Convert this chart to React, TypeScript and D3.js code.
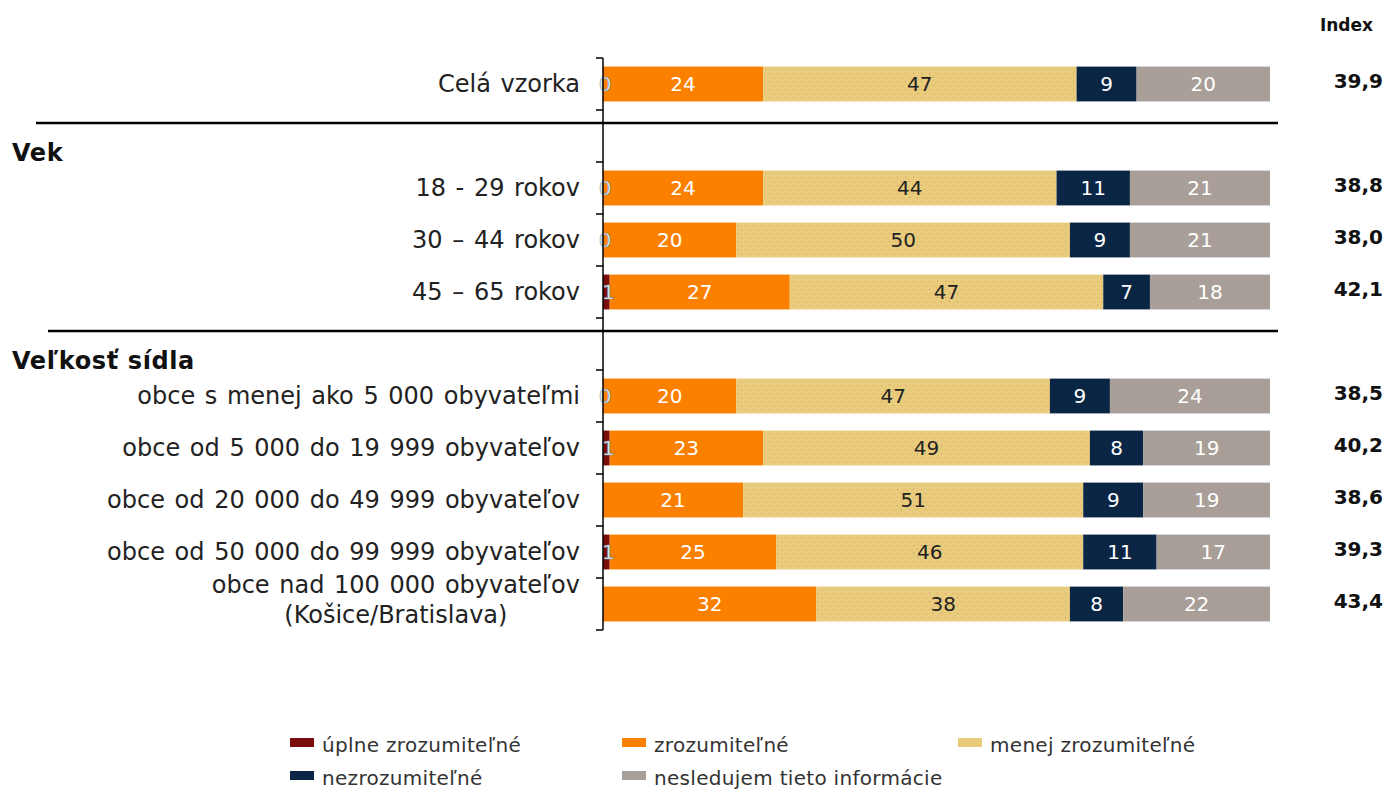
import * as d3 from "d3";
import { useEffect, useRef } from "react";

const categories = [
  "Celá vzorka",
  "18 - 29 rokov",
  "30 – 44 rokov",
  "45 – 65 rokov",
  "obce s menej ako 5 000 obyvateľmi",
  "obce od 5 000 do 19 999 obyvateľov",
  "obce od 20 000 do 49 999 obyvateľov",
  "obce od 50 000 do 99 999 obyvateľov",
  "obce nad 100 000 obyvateľov\n(Košice/Bratislava)",
];

// section headers, placed in an empty row before the given category
const sectionTitles = ["Vek", "Veľkosť sídla"];
const sectionBefore = ["18 - 29 rokov", "obce s menej ako 5 000 obyvateľmi"];

const seriesNames = [
  "úplne zrozumiteľné",
  "zrozumiteľné",
  "menej zrozumiteľné",
  "nezrozumiteľné",
  "nesledujem tieto informácie",
];

const uplne = [0, 0, 0, 1, 0, 1, 0, 1, 0];
const uplneLabeled = [true, true, true, true, true, true, false, true, false];
const zrozumitelne = [24, 24, 20, 27, 20, 23, 21, 25, 32];
const menej = [47, 44, 50, 47, 47, 49, 51, 46, 38];
const nezrozumitelne = [9, 11, 9, 7, 9, 8, 9, 11, 8];
const nesledujem = [20, 21, 21, 18, 24, 19, 19, 17, 22];

const indexValues = [39.9, 38.8, 38.0, 42.1, 38.5, 40.2, 38.6, 39.3, 43.4];

const colors = ["#7a0c0c", "#fb8000", "#e8cc7c", "#0b2645", "#a79f98"];
const labelColors = ["#fff", "#fff", "#222", "#fff", "#fff"];

const W = 1391;
const H = 789;
const FONT = "'DejaVu Sans', Verdana, sans-serif";

const App = () => {
  const ref = useRef<SVGSVGElement | null>(null);

  useEffect(() => {
    if (!ref.current) return;
    const svg = d3.select(ref.current);
    svg.selectAll("*").remove();

    const defs = svg.append("defs");
    const dotted = (id: string, base: string, dot: string) => {
      const p = defs
        .append("pattern")
        .attr("id", id)
        .attr("patternUnits", "userSpaceOnUse")
        .attr("width", 8)
        .attr("height", 8);
      p.append("rect").attr("width", 8).attr("height", 8).attr("fill", base);
      p.append("rect").attr("x", 1).attr("y", 1).attr("width", 1).attr("height", 1).attr("fill", dot);
      p.append("rect").attr("x", 5).attr("y", 5).attr("width", 1).attr("height", 1).attr("fill", dot);
    };
    dotted("dotYellow", colors[2], "#d9907a");
    dotted("dotGrey", colors[4], "#b98a92");
    const fills = [colors[0], colors[1], "url(#dotYellow)", colors[3], "url(#dotGrey)"];

    const rows: string[] = [];
    categories.forEach((c) => {
      const si = sectionBefore.indexOf(c);
      if (si >= 0) rows.push(sectionTitles[si]);
      rows.push(c);
    });

    const x = d3.scaleLinear().domain([0, 100]).range([603, 1270]);
    const y = d3
      .scaleBand<string>()
      .domain(rows)
      .range([58, 630])
      .paddingInner(0.33)
      .paddingOuter(0.165);
    const step = y.step();
    const top = (r: string) => y(r)! - (step - y.bandwidth()) / 2;
    const mid = (r: string) => y(r)! + y.bandwidth() / 2;

    const table = categories.map((c, i) => ({
      cat: c,
      i,
      s0: uplne[i],
      s1: zrozumitelne[i],
      s2: menej[i],
      s3: nezrozumitelne[i],
      s4: nesledujem[i],
    }));
    const keys = ["s0", "s1", "s2", "s3", "s4"];
    const stacked = d3.stack<any>().keys(keys)(table);

    // bars
    stacked.forEach((layer, li) => {
      const g = svg.append("g");
      g.selectAll("rect")
        .data(layer)
        .join("rect")
        .attr("x", (d) => x(d[0]))
        .attr("width", (d) => Math.max(0, x(d[1]) - x(d[0])))
        .attr("y", (d) => y(d.data.cat)!)
        .attr("height", y.bandwidth())
        .attr("fill", fills[li]);
    });

    // segment labels
    stacked.forEach((layer, li) => {
      const g = svg.append("g").attr("font-family", FONT).attr("font-size", 20);
      g.selectAll("text")
        .data(layer.filter((d) => li !== 0 || uplneLabeled[d.data.i]))
        .join("text")
        .attr("x", (d) => (x(d[0]) + x(d[1])) / 2 + (li === 0 ? 2 : 0))
        .attr("y", (d) => mid(d.data.cat) + 7)
        .attr("text-anchor", "middle")
        .attr("fill", labelColors[li])
        .attr("stroke", li === 0 ? "#6f8ea0" : "none")
        .attr("stroke-width", 0.7)
        .text((d) => d3.format("d")(d[1] - d[0]));
    });

    // axis with ticks at band boundaries
    const axis = svg.append("g").attr("stroke", "#000");
    axis
      .append("line")
      .attr("x1", x(0))
      .attr("x2", x(0))
      .attr("y1", 58)
      .attr("y2", 630)
      .attr("stroke-width", 1.5);
    axis
      .selectAll("line.tick")
      .data([...rows.map((r) => top(r)), 630])
      .join("line")
      .attr("class", "tick")
      .attr("x1", x(0) - 7)
      .attr("x2", x(0))
      .attr("y1", (d) => d)
      .attr("y2", (d) => d)
      .attr("stroke-width", 1.5);

    // category labels
    const labels = svg
      .append("g")
      .attr("font-family", FONT)
      .attr("font-size", 24)
      .attr("word-spacing", 2)
      .attr("fill", "#222");
    categories.forEach((c) => {
      const lines = c.split("\n");
      const cy = mid(c);
      if (lines.length === 1) {
        labels
          .append("text")
          .attr("x", 580)
          .attr("y", cy + 8)
          .attr("text-anchor", "end")
          .text(c);
      } else {
        const t = labels
          .append("text")
          .attr("x", 580)
          .attr("y", cy - 11)
          .attr("text-anchor", "end")
          .text(lines[0]);
        const w = (t.node() as SVGTextElement).getComputedTextLength();
        labels
          .append("text")
          .attr("x", 580 - w / 2)
          .attr("y", cy + 19)
          .attr("text-anchor", "middle")
          .text(lines[1]);
      }
    });

    // section headers + separators
    sectionTitles.forEach((s, i) => {
      const t = top(s);
      svg
        .append("line")
        .attr("x1", i === 0 ? 36 : 48)
        .attr("x2", 1278)
        .attr("y1", t + step * 0.25)
        .attr("y2", t + step * 0.25)
        .attr("stroke", "#000")
        .attr("stroke-width", 2.5);
      svg
        .append("text")
        .attr("x", 12)
        .attr("y", t + step - 1)
        .attr("font-family", FONT)
        .attr("font-size", 24)
        .attr("font-weight", "bold")
        .attr("letter-spacing", 0.6)
        .attr("fill", "#111")
        .text(s);
    });

    // index column
    svg
      .append("text")
      .attr("x", 1373)
      .attr("y", 31)
      .attr("text-anchor", "end")
      .attr("font-family", FONT)
      .attr("font-size", 17)
      .attr("font-weight", "bold")
      .attr("fill", "#111")
      .text("Index");
    const fmt = (v: number) => d3.format(".1f")(v).replace(".", ",");
    svg
      .append("g")
      .attr("font-family", FONT)
      .attr("font-size", 20)
      .attr("font-weight", "bold")
      .attr("fill", "#111")
      .selectAll("text")
      .data(categories)
      .join("text")
      .attr("x", 1383)
      .attr("y", (c) => mid(c) + 4)
      .attr("text-anchor", "end")
      .text((c, i) => fmt(indexValues[i]));

    // legend
    const legendX = [322, 654, 990];
    const legendY = [752, 785];
    const legend = svg
      .append("g")
      .attr("font-family", FONT)
      .attr("font-size", 20)
      .attr("letter-spacing", 0.3)
      .attr("fill", "#333");
    seriesNames.forEach((name, i) => {
      const lx = legendX[i % 3];
      const ly = legendY[Math.floor(i / 3)];
      legend
        .append("rect")
        .attr("x", lx - 32)
        .attr("y", ly - 14)
        .attr("width", 24)
        .attr("height", 9)
        .attr("fill", colors[i]);
      legend
        .append("text")
        .attr("x", lx)
        .attr("y", ly)
        .text(name);
    });
  }, []);

  return (
    <svg
      ref={ref}
      width={W}
      height={H}
      style={{ position: "absolute", left: 0, top: 0, display: "block", background: "#fff" }}
    />
  );
};

export default App;
